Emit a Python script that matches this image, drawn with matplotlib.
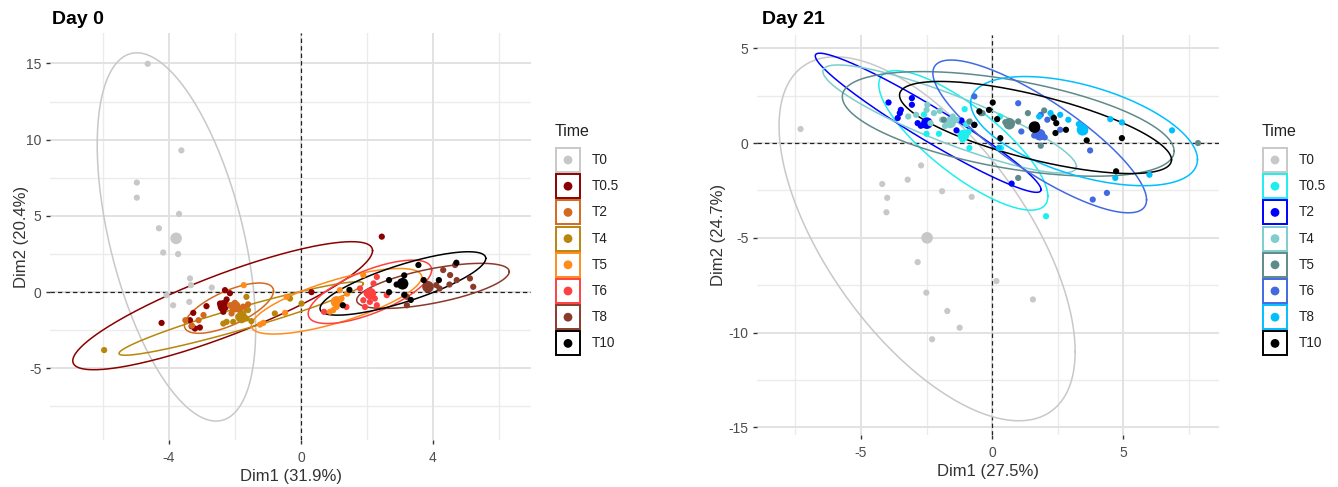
import numpy as np
import matplotlib
matplotlib.use("Agg")
import matplotlib.pyplot as plt
from matplotlib.patches import Rectangle

plt.rcParams['font.family'] = ['Liberation Sans', 'DejaVu Sans']

W, H = 1338, 487

groups = ["T0", "T0.5", "T2", "T4", "T5", "T6", "T8", "T10"]
day0_colors = ["#C8C8C8", "#8B0000", "#D2691E", "#B8860B", "#FF8C1A", "#FF4040", "#8B3A2A", "#000000"]
day21_colors = ["#C8C8C8", "#1EEEEE", "#0000FF", "#7FCDCD", "#5F8A8A", "#4169E1", "#00BFFF", "#000000"]

# ---------------- Day 0 individuals ----------------
d0_T0 = [(-4.64, 14.98), (-3.62, 9.3), (-4.97, 7.19), (-4.97, 6.2), (-3.69, 5.13), (-4.30, 4.19),
         (-4.17, 2.6), (-3.72, 2.5), (-3.36, 0.9), (-3.33, 0.46), (-3.38, -0.64), (-4.07, -0.2),
         (-3.87, -0.86), (-2.7, 0.3)]
d0_T05 = [(-4.22, -2.02), (-3.36, -1.84), (-3.31, -2.24), (-3.21, -2.39), (-3.06, -2.32), (-3.26, -1.36),
          (-2.86, -0.92), (-2.45, -0.75), (-2.40, -1.07), (-2.35, -1.29), (-2.30, 0.13), (-2.15, -0.07),
          (-2.25, -0.48), (0.32, 0.0), (2.45, 3.64)]
d0_T2 = [(-2.15, -0.86), (-2.0, -1.0), (-1.85, -1.2), (-1.75, -0.95), (-1.65, -1.1), (-2.1, -1.4),
         (-3.5, -1.84), (-3.1, -1.84), (-2.95, -1.5), (-2.0, -0.7), (-1.6, -0.8), (-3.3, -2.2)]
d0_T4 = [(-1.65, -0.31), (-1.9, -1.62), (-2.05, -1.95), (-2.25, -1.95), (-2.35, -2.06), (-1.8, -1.84),
         (-1.65, -1.73), (-1.6, -1.18), (-1.75, -1.40), (-0.79, -1.40), (-0.33, -0.42), (0.02, -0.75),
         (-5.96, -3.8), (-1.5, -1.9)]
d0_T5 = [(-1.14, -2.02), (-1.24, -2.13), (-0.48, -1.36), (1.13, -0.53), (1.03, -0.75), (1.08, -0.97),
         (1.23, -0.42), (0.98, -1.18), (1.18, 0.13), (1.89, 1.12), (0.88, -1.29), (-0.43, -0.31),
         (-1.73, 0.46), (1.4, -0.1)]
d0_T6 = [(1.99, -0.09), (1.89, -0.53), (2.09, -0.64), (2.24, -0.42), (2.30, 1.0), (2.2, 0.57),
         (1.79, 0.24), (0.7, -1.29), (1.38, -0.97), (2.3, -0.86), (1.94, -0.97), (2.6, -0.2)]
d0_T8 = [(4.31, 1.45), (4.52, 1.12), (4.72, 0.79), (5.12, 0.9), (5.22, 0.35), (4.67, 1.78),
         (3.8, 0.57), (3.9, 0.35), (4.1, 0.46), (4.2, 0.24), (3.21, -0.31), (3.21, -0.86), (4.5, 0.5)]
d0_T10 = [(3.56, 1.78), (4.71, 1.93), (4.18, 0.79), (3.72, 0.79), (3.13, 1.1), (2.67, 0.79),
          (2.67, 0.0), (1.47, 0.15), (1.27, -0.86), (3.13, -0.18), (3.33, -0.51), (2.9, 0.5)]
d0_points = [d0_T0, d0_T05, d0_T2, d0_T4, d0_T5, d0_T6, d0_T8, d0_T10]

d0_mean_x = [-3.78, -2.35, -2.0, -1.8, 1.08, 2.1, 3.85, 3.08]
d0_mean_y = [3.53, -0.9, -0.95, -1.65, -0.64, -0.1, 0.35, 0.55]

# ellipse: centre, half-extent in x, half-extent in y, correlation
d0_ell_cx = [-3.77, -2.37, -2.18, -1.81, 1.08, 2.09, 4.0, 3.09]
d0_ell_cy = [3.62, -0.89, -1.05, -1.73, -0.6, 0.02, 0.41, 0.57]
d0_ell_a = [2.4, 4.54, 1.35, 3.7, 2.58, 1.87, 2.31, 2.51]
d0_ell_b = [12.08, 4.2, 1.65, 2.41, 2.15, 2.08, 1.48, 2.08]
d0_ell_r = [-0.5, 0.86, 0.68, 0.95, 0.74, 0.69, 0.63, 0.79]

# ---------------- Day 21 individuals ----------------
d21_T0 = [(-7.3, 0.74), (-2.71, -1.18), (-4.19, -2.16), (-4.0, -2.89), (-4.03, -3.65), (-3.22, -1.93),
          (-1.91, -2.54), (-0.78, -2.84), (-2.84, -6.28), (-2.51, -7.89), (-1.71, -8.86), (-1.24, -9.74),
          (-2.29, -10.35), (0.16, -7.28), (1.55, -8.25)]
d21_T05 = [(-1.05, 1.79), (-2.03, 0.49), (-1.13, 0.18), (-0.87, -0.26), (0.34, -0.26), (2.05, -3.86),
           (-2.6, 1.5), (-1.0, 1.0), (-0.9, 0.6), (-1.2, 1.2), (0.3, 1.4), (-2.5, 0.49)]
d21_T2 = [(-3.95, 2.14), (-3.06, 2.37), (-3.06, 2.02), (-3.48, 1.75), (-3.52, 1.58), (-3.6, 1.32),
          (-2.84, 1.05), (-2.72, 0.91), (-1.36, 0.67), (-1.17, 1.19), (-0.68, 0.96), (0.74, -2.14),
          (-2.6, 0.95)]
d21_T4 = [(-2.47, 2.02), (-2.9, 1.49), (-2.22, 1.58), (-1.91, 1.23), (-1.36, 1.23), (-3.2, 1.4),
          (-2.5, 1.75), (-2.35, 1.05), (-1.8, 0.9), (-1.5, 1.4), (-0.9, 1.1), (-2.0, 1.7)]
d21_T5 = [(-1.85, 1.23), (-0.43, 1.58), (0.99, 1.14), (1.36, 1.58), (1.98, 1.72), (1.85, -0.14),
          (0.99, -1.84), (7.84, 0.0), (-0.37, 1.58), (-0.86, 1.14), (0.5, 1.1), (2.3, 1.4)]
d21_T6 = [(-0.68, 2.46), (0.99, 2.1), (1.85, 1.49), (1.11, 0.61), (2.59, 0.7), (3.73, -0.39),
          (2.1, 1.23), (4.37, -2.63), (3.83, -2.98), (1.6, 0.4), (2.0, 0.3)]
d21_T8 = [(2.59, 1.49), (2.9, 1.23), (3.52, 0.61), (4.5, 1.26), (4.94, 1.09), (6.85, 0.67),
          (4.69, -1.84), (5.99, -1.67), (1.79, 1.4), (2.22, 1.58), (3.3, 1.0), (0.25, -0.26)]
d21_T10 = [(0.02, 2.14), (-0.12, 1.75), (-0.49, 1.67), (0.19, 1.26), (-0.68, 0.96), (1.67, 0.96),
           (2.35, 1.32), (2.44, 1.05), (2.81, 0.7), (2.41, 0.53), (3.6, 0.14), (4.94, 0.26),
           (4.72, -1.49), (0.31, 0.26)]
d21_points = [d21_T0, d21_T05, d21_T2, d21_T4, d21_T5, d21_T6, d21_T8, d21_T10]

d21_mean_x = [-2.48, -1.1, -2.49, -1.6, 0.65, 1.81, 3.44, 1.61]
d21_mean_y = [-5.0, 0.4, 1.05, 1.09, 1.02, 0.44, 0.7, 0.84]

d21_ell_cx = [-2.48, -1.1, -2.44, -1.62, 0.61, 1.81, 3.5, 1.65]
d21_ell_cy = [-5.05, 0.14, 1.07, 1.27, 1.01, 0.35, 0.63, 0.82]
d21_ell_a = [5.64, 3.22, 4.3, 4.83, 6.32, 4.07, 4.32, 5.18]
d21_ell_b = [9.6, 3.68, 3.67, 2.85, 2.76, 4.03, 2.88, 2.43]
d21_ell_r = [-0.62, -0.80, -0.96, -0.88, -0.52, -0.83, -0.52, -0.70]

# ---------------------------------------------------------------------
fig = plt.figure(figsize=(W / 100, H / 100), dpi=100)
fig.patch.set_facecolor("white")


def panel(rect, xlim, ylim, xmaj, xmin, ymaj, ymin, pts, mx, my, cx, cy, ea, eb, er, colors,
          xlabel, ylabel, ylab_px):
    ax = fig.add_axes(rect)
    ax.set_xlim(*xlim)
    ax.set_ylim(*ylim)
    for v in xmin:
        ax.axvline(v, color="#EBEBEB", lw=1.0, zorder=0)
    for v in ymin:
        ax.axhline(v, color="#EBEBEB", lw=1.0, zorder=0)
    for v in xmaj:
        ax.axvline(v, color="#E2E2E2", lw=1.4, zorder=0)
    for v in ymaj:
        ax.axhline(v, color="#E2E2E2", lw=1.4, zorder=0)
    ax.axvline(0, color="#222222", lw=0.9, ls=(0, (3.5, 2.5)), zorder=1)
    ax.axhline(0, color="#222222", lw=0.9, ls=(0, (3.5, 2.5)), zorder=1)
    t = np.linspace(0, 2 * np.pi, 300)
    for i in range(len(groups)):
        p = np.array(pts[i])
        ax.scatter(p[:, 0], p[:, 1], s=20, color=colors[i], edgecolors="none", zorder=3 + i * 0.01)
        ax.scatter([mx[i]], [my[i]], s=70, color=colors[i], edgecolors="none", zorder=3 + i * 0.01)
    for i in range(len(groups)):
        ex = cx[i] + ea[i] * np.cos(t)
        ey = cy[i] + eb[i] * (er[i] * np.cos(t) + np.sqrt(1 - er[i] ** 2) * np.sin(t))
        ax.plot(ex, ey, color=colors[i], lw=1.1, zorder=2.5)
    for s in ax.spines.values():
        s.set_visible(False)
    ax.set_xticks(xmaj)
    ax.set_yticks(ymaj)
    ax.set_xticklabels([f"{v:g}" for v in xmaj])
    ax.set_yticklabels([f"{v:g}" for v in ymaj])
    ax.tick_params(length=3, width=1.0, color="#333333", labelsize=10, labelcolor="#4D4D4D")
    ax.tick_params(axis="x", pad=5)
    ax.tick_params(axis="y", pad=3)
    ax.set_xlabel(xlabel, fontsize=12, color="#333333", labelpad=3)
    ax.set_ylabel(ylabel, fontsize=12, color="#333333")
    ax.yaxis.label.set_verticalalignment("center")
    ax.yaxis.set_label_coords((ylab_px - rect[0] * W) / (rect[2] * W), 0.5)
    ax.set_facecolor("white")
    return ax


panel([50 / W, 47 / H, 481 / W, 407 / H], (-7.6, 6.97), (-9.7, 17.0),
      [-4, 0, 4], [-6, -2, 2, 6], [-5, 0, 5, 10, 15], [-7.5, -2.5, 2.5, 7.5, 12.5],
      d0_points, d0_mean_x, d0_mean_y, d0_ell_cx, d0_ell_cy, d0_ell_a, d0_ell_b, d0_ell_r,
      day0_colors, "Dim1 (31.9%)", "Dim2 (20.4%)", 22)

panel([757 / W, 52 / H, 462 / W, 400 / H], (-8.96, 8.64), (-15.4, 5.7),
      [-5, 0, 5], [-7.5, -2.5, 2.5, 7.5], [-15, -10, -5, 0, 5], [-12.5, -7.5, -2.5, 2.5],
      d21_points, d21_mean_x, d21_mean_y, d21_ell_cx, d21_ell_cy, d21_ell_a, d21_ell_b, d21_ell_r,
      day21_colors, "Dim1 (27.5%)", "Dim2 (24.7%)", 719)

fig.text(52 / W, 1 - 20 / H, "Day 0", fontsize=14, fontweight="bold", va="center", ha="left")
fig.text(762 / W, 1 - 20 / H, "Day 21", fontsize=14, fontweight="bold", va="center", ha="left")

# legends drawn in a pixel-coordinate overlay
lax = fig.add_axes([0, 0, 1, 1], zorder=10)
lax.set_xlim(0, W)
lax.set_ylim(H, 0)
lax.axis("off")
lax.patch.set_alpha(0)


def legend(x0, colors):
    lax.text(x0, 132, "Time", fontsize=11.5, color="#222222", va="center", ha="left")
    for i, g in enumerate(groups):
        yc = 160 + i * 26.2
        lax.add_patch(Rectangle((x0 + 1, yc - 12), 24, 24, facecolor="white", edgecolor=colors[i], lw=1.4))
        lax.scatter([x0 + 13], [yc], s=40, color=colors[i], edgecolors="none")
        lax.text(x0 + 37, yc, g, fontsize=9.8, color="#222222", va="center", ha="left")


legend(555, day0_colors)
legend(1262, day21_colors)

fig.savefig("out.png", dpi=100, facecolor="white")
